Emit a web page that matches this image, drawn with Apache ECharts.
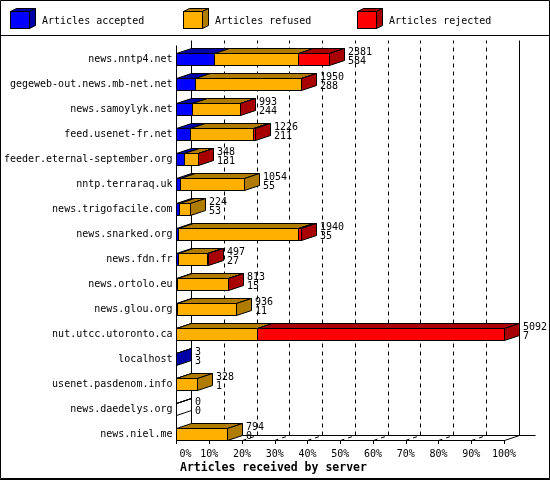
<!DOCTYPE html>
<html><head><meta charset="utf-8">
<script src="https://cdn.jsdelivr.net/npm/echarts@6/dist/echarts.min.js"></script>
<style>html,body{margin:0;padding:0;background:#fff}#c{width:550px;height:480px}</style>
</head><body><div id="c"></div>
<script>
const hosts = ['news.nntp4.net','gegeweb-out.news.mb-net.net','news.samoylyk.net','feed.usenet-fr.net',
  'feeder.eternal-september.org','nntp.terraraq.uk','news.trigofacile.com','news.snarked.org',
  'news.fdn.fr','news.ortolo.eu','news.glou.org','nut.utcc.utoronto.ca','localhost',
  'usenet.pasdenom.info','news.daedelys.org','news.niel.me'];
const totals   = [2381,1950,993,1226,348,1054,224,1940,497,813,936,5092,3,328,0,794];
const accepted = [584,288,244,211,131,55,53,35,27,15,11,7,3,1,0,0];
const refused  = [1310,1657,744,980,207,999,171,1865,460,793,925,1250,0,327,0,794];
const rejected = [487,5,5,35,10,0,0,40,10,5,0,3835,0,0,0,0];
const tickPercents = [0,10,20,30,40,50,60,70,80,90,100];
const tickLabels = ['0%','10%','20%','30%','40%','50%','60%','70%','80%','90%','100%'];
const seriesNames = ['Articles accepted','Articles refused','Articles rejected'];

const FONT = '"DejaVu Sans Mono","Liberation Mono",monospace';
const frontCol = ['#0000ff','#ffb000','#ff0000'];
const darkCol  = ['#0000a8','#b07c00','#a80000'];
const DX = 15, DY = 5;
const maxTotal = Math.max.apply(null, totals);
const pct = v => v / maxTotal * 100;
const segs = [accepted, refused, rejected];
const s = v => Math.round(v - 0.5) + 0.5;

function lastNonZero(i){ for (let k = 2; k >= 0; k--) if (segs[k][i] > 0) return k; return 0; }

function cubeIcon(f, d){
  const svg = '<svg xmlns="http://www.w3.org/2000/svg" width="26" height="21" viewBox="0 0 26 21">' +
    '<path d="M0.5 3.5 L6.5 0.5 L25.5 0.5 L19.5 3.5 Z" fill="' + d + '" stroke="#000"/>' +
    '<path d="M19.5 3.5 L25.5 0.5 L25.5 17.5 L19.5 20.5 Z" fill="' + d + '" stroke="#000"/>' +
    '<rect x="0.5" y="3.5" width="19" height="17" fill="' + f + '" stroke="#000"/></svg>';
  return 'image://data:image/svg+xml;charset=utf-8,' + encodeURIComponent(svg);
}

function barRender(k){
  return function(params, api){
    const i = api.value(1);
    let start = 0;
    for (let j = 0; j < k; j++) start += segs[j][i];
    const val = segs[k][i];
    const isLast = lastNonZero(i) === k;
    if (val <= 0 && !(k === 0 && totals[i] === 0)) return null;
    const p0 = api.coord([pct(start), i]);
    const p1 = api.coord([pct(start + val), i]);
    const bw = api.size([0, 1])[1];
    const yb = s(p0[1] + bw / 2), yt = s(p0[1] + bw / 2 - bw * 0.47);
    const x0 = s(p0[0]), x1 = s(p1[0]);
    const st = {stroke: '#000', lineWidth: 1};
    const ch = [];
    ch.push({type: 'polygon', shape: {points: [[x0, yt], [x1, yt], [x1 + DX, yt - DY], [x0 + DX, yt - DY]]},
      style: Object.assign({fill: darkCol[k]}, st)});
    ch.push({type: 'rect', shape: {x: x0, y: yt, width: x1 - x0, height: yb - yt},
      style: Object.assign({fill: frontCol[k]}, st)});
    if (isLast) ch.push({type: 'polygon', shape: {points: [[x1, yt], [x1 + DX, yt - DY], [x1 + DX, yb - DY], [x1, yb]]},
      style: Object.assign({fill: totals[i] === 0 ? 'none' : darkCol[k]}, st)});
    return {type: 'group', children: ch};
  };
}

function labelRender(params, api){
  const i = api.value(1);
  const p = api.coord([pct(totals[i]), i]);
  return {type: 'text', x: s(p[0]) + DX + 3.5, y: p[1] - 5,
    style: {text: totals[i] + '\n' + accepted[i], fill: '#000', font: '10px ' + FONT,
      align: 'left', verticalAlign: 'top', lineHeight: 9.6}};
}

function frameRender(params, api){
  const p = api.value(0);
  const cs = params.coordSys;
  const yb = s(cs.y + cs.height), top = s(cs.y);
  const x = s(api.coord([p, 0])[0]);
  const x0 = s(cs.x), x1 = s(cs.x + cs.width);
  const solid = {stroke: '#000', lineWidth: 1};
  const dashed = {stroke: '#000', lineWidth: 1, lineDash: [4, 4]};
  const ch = [];
  const L = (a, b, c, d, st) => ch.push({type: 'line', shape: {x1: a, y1: b, x2: c, y2: d}, style: st});
  if (p === 0){
    L(x0 + DX, top, x0 + DX, yb - DY, solid);
    L(x0, top + DY, x0, yb, solid);
    L(x0, yb, x0 + DX, yb - DY, solid);
    L(x0 + DX, yb - DY, x1 + DX + 16, yb - DY, solid);
  } else if (p === 100){
    L(x1 + DX, top, x1 + DX, yb - DY, solid);
    L(x1, yb, x1 + DX, yb - DY, solid);
  } else {
    L(x, yb, x + DX, yb - DY, dashed);
    L(x + DX, yb - DY, x + DX, top, dashed);
  }
  return {type: 'group', children: ch};
}

const chart = echarts.init(document.getElementById('c'), null, {renderer: 'canvas'});
const rowData = hosts.map((h, i) => [pct(totals[i]), i]);
const legendLeft = [10, 183, 357];

chart.setOption({
  animation: false,
  backgroundColor: '#fff',
  title: {text: 'Articles received by server', left: 180, top: 462, padding: 0,
    textStyle: {fontFamily: FONT, fontSize: 11.5, fontWeight: 'bold', color: '#000'}},
  legend: seriesNames.map((n, k) => ({
    data: [{name: n, icon: cubeIcon(frontCol[k], darkCol[k])}],
    left: legendLeft[k], top: 8, padding: 0, itemWidth: 26, itemHeight: 21, itemGap: 0,
    selectedMode: false,
    formatter: '{t|{name}}',
    textStyle: {fontFamily: FONT, fontSize: 10, color: '#000',
      rich: {t: {fontFamily: FONT, fontSize: 10, color: '#000', padding: [5, 0, 0, 1]}}}
  })),
  grid: {left: 176.5, right: 46, top: 40, bottom: 40, containLabel: false},
  xAxis: {type: 'value', min: 0, max: 100, interval: 10,
    axisLine: {show: true, lineStyle: {color: '#000', width: 1}},
    axisTick: {show: true, length: 4, lineStyle: {color: '#000'}},
    splitLine: {show: false},
    axisLabel: {color: '#000', fontFamily: FONT, fontSize: 10, margin: 9,
      formatter: v => { const t = tickLabels[tickPercents.indexOf(Math.round(v))]; return v === 0 ? '{z|' + t + '}' : t; },
      rich: {z: {fontFamily: FONT, fontSize: 10, color: '#000', padding: [0, 0, 0, 18]}}}
  },
  yAxis: {type: 'category', data: hosts, inverse: true,
    axisLine: {show: false}, axisTick: {show: false}, splitLine: {show: false},
    axisLabel: {color: '#000', fontFamily: FONT, fontSize: 10, margin: 4, verticalAlign: 'top', lineHeight: 12, padding: [1, 0, 0, 0]}
  },
  graphic: [
    {type: 'rect', shape: {x: 0.5, y: 0.5, width: 549, height: 478}, style: {fill: 'none', stroke: '#000', lineWidth: 1}, z: 100},
    {type: 'line', shape: {x1: 0, y1: 479.5, x2: 550, y2: 479.5}, style: {stroke: '#000', lineWidth: 1}, z: 100},
    {type: 'line', shape: {x1: 0, y1: 35.5, x2: 550, y2: 35.5}, style: {stroke: '#000', lineWidth: 1}, z: 100}
  ],
  series: [
    {type: 'custom', name: 'frame', z: 1, renderItem: frameRender, data: tickPercents.map(p => [p, 0]), encode: {x: 0, y: 1}, silent: true}
  ].concat(seriesNames.map((n, k) => ({
    type: 'custom', name: n, z: 2 + k, renderItem: barRender(k), data: rowData, encode: {x: 0, y: 1},
    itemStyle: {color: frontCol[k]}
  }))).concat([
    {type: 'custom', name: 'labels', z: 10, renderItem: labelRender, data: rowData, encode: {x: 0, y: 1}, silent: true}
  ])
});
</script></body></html>
